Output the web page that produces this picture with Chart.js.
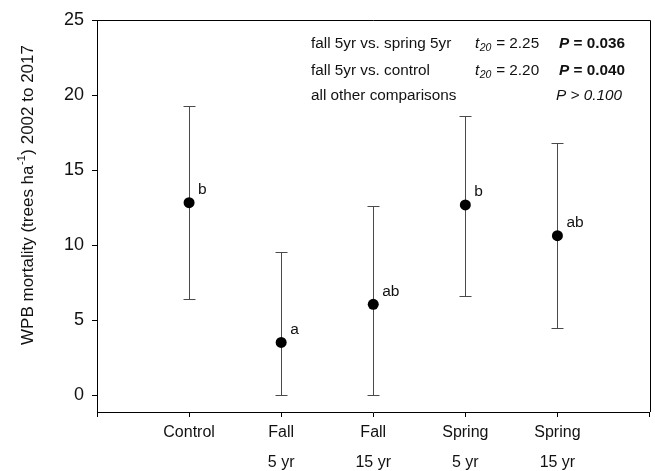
<!DOCTYPE html>
<html>
<head>
<meta charset="utf-8">
<script src="https://cdn.jsdelivr.net/npm/chart.js@4/dist/chart.umd.min.js"></script>
<style>
  html, body { margin: 0; padding: 0; background: #fff; }
  canvas { display: block; }
</style>
</head>
<body>
<canvas id="c" width="655" height="471"></canvas>
<script>
// ---- data ----
const catLine1 = ['Control', 'Fall', 'Fall', 'Spring', 'Spring'];
const catLine2 = ['', '5 yr', '15 yr', '5 yr', '15 yr'];
const means = [12.82, 3.51, 6.05, 12.67, 10.62];
const upper = [19.27, 9.51, 12.60, 18.60, 16.82];
const lower = [6.40, 0.00, 0.00, 6.62, 4.44];
const letters = ['b', 'a', 'ab', 'b', 'ab'];
const yTicks = [0, 5, 10, 15, 20, 25];
const cmpLabels = ['fall 5yr vs. spring 5yr', 'fall 5yr vs. control', 'all other comparisons'];
const cmpT = ['2.25', '2.20', ''];
const cmpP = ['0.036', '0.040', '0.100'];
const cmpRel = ['=', '=', '>'];
const yTitleMain = 'WPB mortality (trees ha';
const yTitleSup = '-1';
const yTitleEnd = ') 2002 to 2017';

const FONT = '"Liberation Sans", Arial, sans-serif';
const TS = 15.3; // table font size

const points = means.map((m, i) => ({ x: i + 1, y: m }));

const errorBars = {
  id: 'errorBars',
  beforeDatasetsDraw(chart) {
    const { ctx, scales: { x, y } } = chart;
    ctx.save();
    ctx.strokeStyle = '#4a4a4a';
    ctx.lineWidth = 1;
    means.forEach((m, i) => {
      const px = Math.round(x.getPixelForValue(i + 1)) + 0.5;
      const pu = Math.round(y.getPixelForValue(upper[i])) + 0.5;
      const pl = Math.round(y.getPixelForValue(lower[i])) + 0.5;
      ctx.beginPath();
      ctx.moveTo(px, pu); ctx.lineTo(px, pl);
      ctx.moveTo(px - 6, pu); ctx.lineTo(px + 6, pu);
      ctx.moveTo(px - 6, pl); ctx.lineTo(px + 6, pl);
      ctx.stroke();
    });
    ctx.restore();
  }
};

const extras = {
  id: 'extras',
  afterDraw(chart) {
    const { ctx, chartArea: a, scales: { x, y } } = chart;
    ctx.save();
    // frame top and right
    ctx.strokeStyle = '#000';
    ctx.lineWidth = 1;
    ctx.beginPath();
    ctx.moveTo(a.left, Math.round(a.top) + 0.5);
    ctx.lineTo(Math.round(a.right) + 0.5, Math.round(a.top) + 0.5);
    ctx.lineTo(Math.round(a.right) + 0.5, a.bottom);
    ctx.stroke();

    // letters
    ctx.fillStyle = '#111';
    ctx.font = '15.5px ' + FONT;
    ctx.textBaseline = 'middle';
    ctx.textAlign = 'left';
    letters.forEach((t, i) => {
      const px = x.getPixelForValue(i + 1);
      const py = y.getPixelForValue(means[i]);
      ctx.fillText(t, px + 9, py - 13);
    });

    // comparison table
    const rows = [44, 71, 96];
    cmpLabels.forEach((lab, i) => {
      const ry = rows[i];
      ctx.font = TS + 'px ' + FONT;
      ctx.textAlign = 'left';
      ctx.fillText(lab, 311, ry);
      if (cmpT[i]) {
        ctx.font = 'italic ' + TS + 'px ' + FONT;
        ctx.fillText('t', 475, ry);
        const tw = ctx.measureText('t').width;
        ctx.font = 'italic 10.5px ' + FONT;
        ctx.fillText('20', 475 + tw + 0.5, ry + 4);
        const sw = ctx.measureText('20').width;
        ctx.font = TS + 'px ' + FONT;
        ctx.fillText(' = ' + cmpT[i], 475 + tw + sw + 1, ry);
        ctx.textAlign = 'right';
        ctx.font = 'bold ' + TS + 'px ' + FONT;
        const valTxt = ' ' + cmpRel[i] + ' ' + cmpP[i];
        ctx.fillText(valTxt, 625, ry);
        const vw = ctx.measureText(valTxt).width;
        ctx.font = 'italic bold ' + TS + 'px ' + FONT;
        ctx.fillText('P', 625 - vw, ry);
      } else {
        ctx.textAlign = 'right';
        ctx.font = 'italic ' + TS + 'px ' + FONT;
        ctx.fillText('P ' + cmpRel[i] + ' ' + cmpP[i], 622, ry);
      }
    });

    // y title with superscript
    ctx.translate(28, 195);
    ctx.rotate(-Math.PI / 2);
    ctx.font = '17px ' + FONT;
    const w1 = ctx.measureText(yTitleMain).width;
    const w3 = ctx.measureText(yTitleEnd).width;
    ctx.font = '11px ' + FONT;
    const w2 = ctx.measureText(yTitleSup).width;
    const total = w1 + w2 + w3 + 1;
    let sx = -total / 2;
    ctx.textAlign = 'left';
    ctx.textBaseline = 'middle';
    ctx.font = '17px ' + FONT;
    ctx.fillText(yTitleMain, sx, 0);
    sx += w1;
    ctx.font = '11px ' + FONT;
    ctx.fillText(yTitleSup, sx + 0.5, -6);
    sx += w2 + 1;
    ctx.font = '17px ' + FONT;
    ctx.fillText(yTitleEnd, sx, 0);
    ctx.restore();
  }
};

new Chart(document.getElementById('c'), {
  type: 'scatter',
  data: {
    datasets: [{
      data: points,
      pointRadius: 5.5,
      pointHoverRadius: 5.5,
      backgroundColor: '#000',
      borderColor: '#000',
      borderWidth: 0
    }]
  },
  options: {
    responsive: false,
    animation: false,
    devicePixelRatio: 1,
    layout: { padding: { left: 0, right: 3, top: 20, bottom: 0 } },
    plugins: { legend: { display: false }, tooltip: { enabled: false } },
    scales: {
      x: {
        type: 'linear',
        position: 'bottom',
        min: 0, max: 6,
        afterBuildTicks: s => { s.ticks = [0, 1, 2, 3, 4, 5, 6].map(v => ({ value: v })); },
        ticks: {
          autoSkip: false,
          maxRotation: 0,
          padding: 1,
          color: '#111',
          font: { family: FONT, size: 16, lineHeight: 30 / 16 },
          callback: v => (v >= 1 && v <= 5) ? [catLine1[v - 1], catLine2[v - 1]] : ''
        },
        grid: { drawOnChartArea: false, drawTicks: true, tickLength: 5, tickColor: '#000' },
        border: { display: true, color: '#000', width: 1 },
        afterFit: s => { s.height = 59; }
      },
      y: {
        min: -1.13, max: 25,
        afterBuildTicks: s => { s.ticks = yTicks.map(v => ({ value: v })); },
        ticks: {
          padding: 8,
          color: '#111',
          font: { family: FONT, size: 18 }
        },
        grid: { drawOnChartArea: false, drawTicks: true, tickLength: 5, tickColor: '#000' },
        border: { display: true, color: '#000', width: 1 },
        afterFit: s => { s.width = 97; }
      }
    }
  },
  plugins: [errorBars, extras]
});
</script>
</body>
</html>
